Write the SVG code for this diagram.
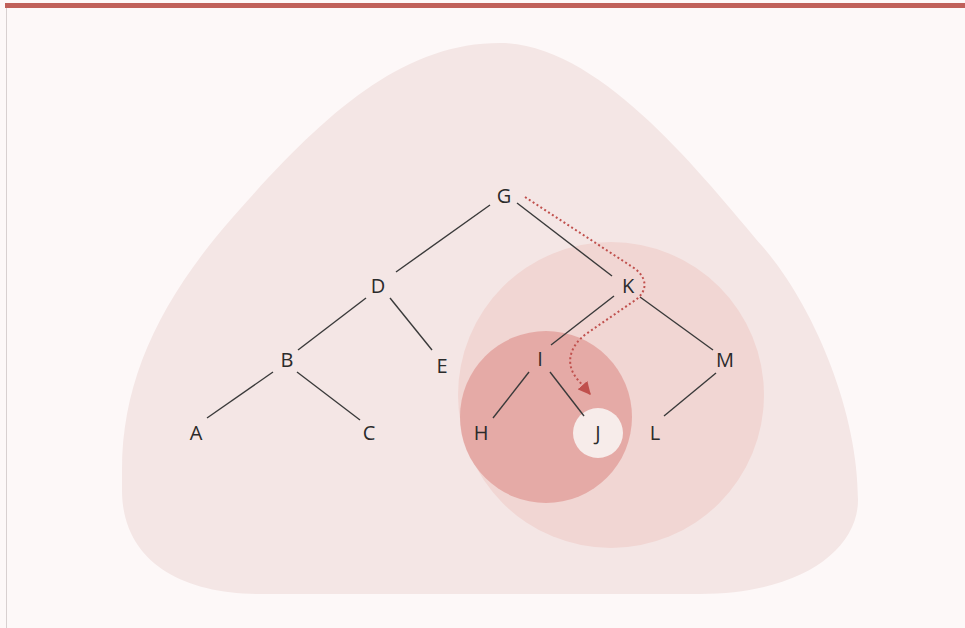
<svg xmlns="http://www.w3.org/2000/svg" width="965" height="628" viewBox="0 0 965 628">
<defs>
<style>
.lbl{font-family:"Open Sans","Liberation Sans",sans-serif;font-size:20px;fill:#2b2b2b;text-anchor:middle}
.edge{stroke:#3a3a3a;stroke-width:1.4;fill:none}
.path{stroke:#c0504d;stroke-width:2;fill:none;stroke-dasharray:2 2.6}
</style>
<marker id="arr" viewBox="0 0 10 10" refX="9" refY="5" markerWidth="6.5" markerHeight="6.5" orient="auto" markerUnits="strokeWidth">
<path d="M0,0 L10,5 L0,10 Z" fill="#c0504d"/>
</marker>
</defs>
<rect width="965" height="628" fill="#fdf8f8"/>
<rect x="5" y="3" width="960" height="5" fill="#c0605a"/>
<line x1="6.5" y1="8" x2="6.5" y2="628" stroke="#d8d0d0" stroke-width="1"/>
<g id="regions">
<path d="M500,43 C600,43 703,177 763,247 C813,305 858,410 858,500 C858,550 800,594 700,594 L260,594 C180,594 122,560 122,490 L122,470 C122,380 160,300 233,217 C321,117 400,43 500,43 Z" fill="#f4e6e5"/>
<circle cx="611" cy="395" r="153" fill="#f1d6d3"/>
<circle cx="546" cy="417" r="86" fill="#e5aaa6"/>
<circle cx="598" cy="433" r="25" fill="#f7ecea"/>
</g>
<g id="connectors">
<line class="edge" x1="490" y1="205" x2="396" y2="272"/>
<line class="edge" x1="517" y1="203" x2="612" y2="276"/>
<line class="edge" x1="366" y1="298" x2="298" y2="350"/>
<line class="edge" x1="390" y1="298" x2="432" y2="350"/>
<line class="edge" x1="273" y1="372" x2="207" y2="418"/>
<line class="edge" x1="297" y1="372" x2="360" y2="420"/>
<line class="edge" x1="614" y1="296" x2="551" y2="345"/>
<line class="edge" x1="640" y1="297" x2="713" y2="350"/>
<line class="edge" x1="529" y1="372" x2="493" y2="418"/>
<line class="edge" x1="550" y1="372" x2="584" y2="416"/>
<line class="edge" x1="716" y1="373" x2="664" y2="416"/>
<path class="path" d="M525,197 L634,268 C648,278 648,292 634,301 L586,334 C570,346 564,364 578,380 L590,394" marker-end="url(#arr)"/>
</g>
<g id="node-G"><text class="lbl" x="504" y="203">G</text></g>
<g id="node-D"><text class="lbl" x="378" y="293">D</text></g>
<g id="node-K"><text class="lbl" x="628" y="293">K</text></g>
<g id="node-B"><text class="lbl" x="287" y="367">B</text></g>
<g id="node-E"><text class="lbl" x="442" y="373">E</text></g>
<g id="node-I"><text class="lbl" x="540" y="366">I</text></g>
<g id="node-M"><text class="lbl" x="725" y="367">M</text></g>
<g id="node-A"><text class="lbl" x="196" y="440">A</text></g>
<g id="node-C"><text class="lbl" x="369" y="440">C</text></g>
<g id="node-H"><text class="lbl" x="481" y="440">H</text></g>
<g id="node-J"><text class="lbl" x="598" y="440">J</text></g>
<g id="node-L"><text class="lbl" x="655" y="440">L</text></g>
</svg>
